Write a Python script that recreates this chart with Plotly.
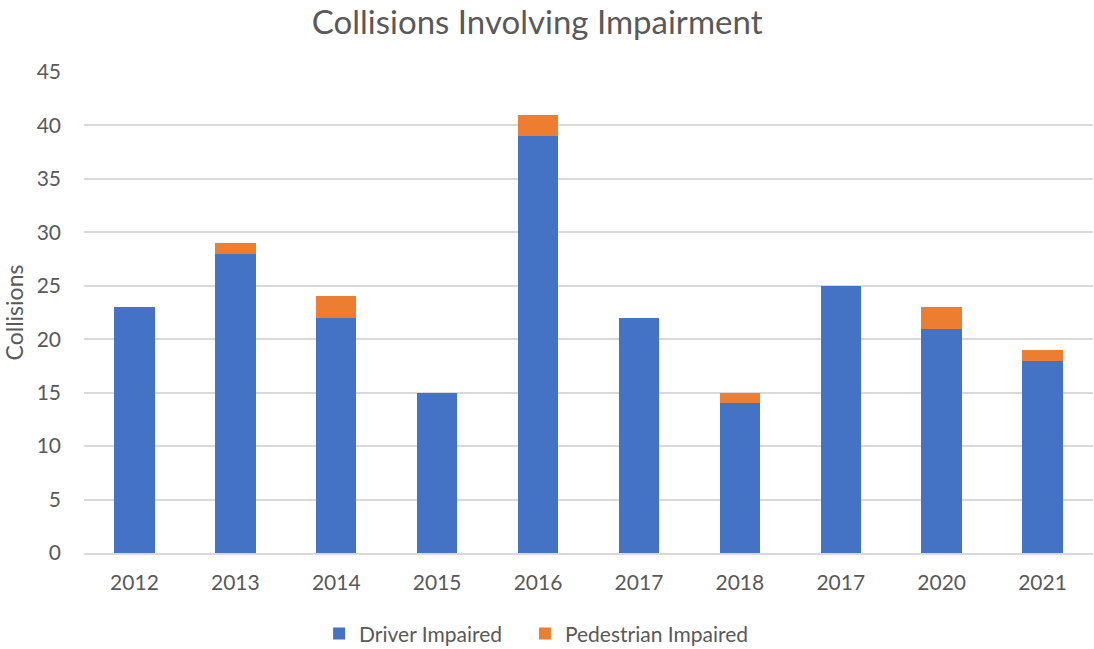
import plotly.graph_objects as go

# Year labels as printed on the axis (one label repeats)
year_labels = ["2012", "2013", "2014", "2015", "2016", "2017", "2018", "2017", "2020", "2021"]
driver_impaired = [23, 28, 22, 15, 39, 22, 14, 25, 21, 18]
pedestrian_impaired = [0, 1, 2, 0, 2, 0, 1, 0, 2, 1]
y_ticks = [0, 5, 10, 15, 20, 25, 30, 35, 40, 45]

positions = list(range(len(year_labels)))
text_color = "#595959"
font_family = "Lato, 'Open Sans', sans-serif"

fig = go.Figure()
fig.add_trace(go.Bar(
    x=positions, y=driver_impaired, name="Driver Impaired", showlegend=True,
    marker=dict(color="#4472C4", line=dict(width=0)), legend="legend",
))
fig.add_trace(go.Bar(
    x=positions, y=pedestrian_impaired, name="Pedestrian Impaired", showlegend=True,
    marker=dict(color="#ED7D31", line=dict(width=0)), legend="legend2",
))

legend_style = dict(orientation="h", xanchor="left", y=-0.168, yanchor="middle",
                    font=dict(size=21, color=text_color), itemwidth=30,
                    bgcolor="rgba(0,0,0,0)")

fig.update_layout(
    showlegend=True,
    barmode="stack",
    bargap=0.6,
    width=1094, height=649,
    paper_bgcolor="white", plot_bgcolor="white",
    margin=dict(l=84, r=1, t=72, b=96, autoexpand=False),
    font=dict(family=font_family, color=text_color, size=21),
    title=dict(text="Collisions Involving Impairment", x=0.491, xanchor="center",
               y=0.966, yanchor="middle", font=dict(size=33, color=text_color)),
    legend=dict(x=0.233, **legend_style),
    legend2=dict(x=0.437, **legend_style),
    xaxis=dict(tickmode="array", tickvals=positions, ticktext=year_labels,
               range=[-0.5, len(year_labels) - 0.5], showgrid=False,
               showline=True, linecolor="#D9D9D9", linewidth=1.5,
               ticks="", ticklabelstandoff=10, tickfont=dict(size=21),
               automargin=False),
    yaxis=dict(range=[0, 45], tickmode="array", tickvals=y_ticks,
               showgrid=True, gridcolor="#D9D9D9", gridwidth=1.5,
               zeroline=False, showline=False, ticks="",
               ticklabelstandoff=22, tickfont=dict(size=21), automargin=False,
               title=dict(text="Collisions", font=dict(size=23, color=text_color),
                          standoff=10)),
)

fig.write_html("out.html")
